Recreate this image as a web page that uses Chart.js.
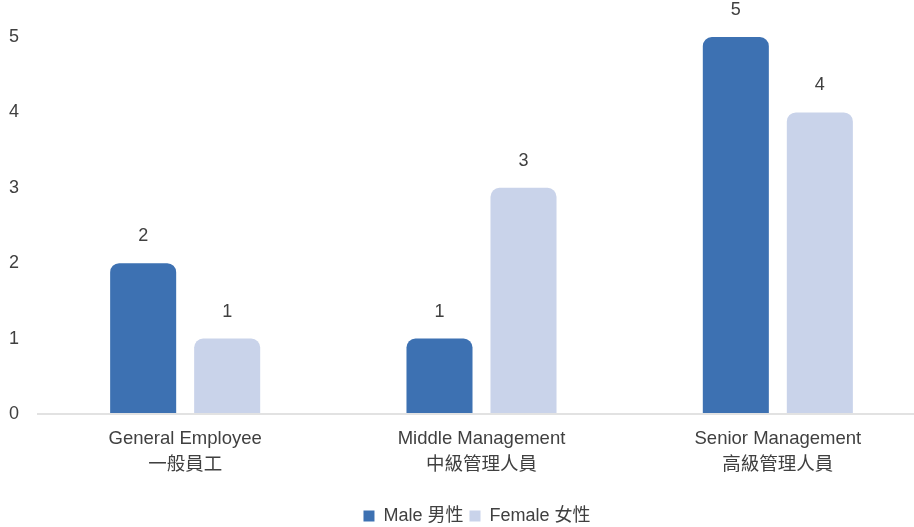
<!DOCTYPE html>
<html>
<head>
<meta charset="utf-8">
<script src="https://cdn.jsdelivr.net/npm/chart.js@4/dist/chart.umd.min.js"></script>
<style>
  html, body { margin: 0; padding: 0; background: #ffffff; overflow: hidden; }
  #wrap { width: 930px; height: 535px; position: relative; }
</style>
</head>
<body>
<div id="wrap"><canvas id="c" width="930" height="535"></canvas></div>
<script>
const categories = [
  ["General Employee", "一般員工"],
  ["Middle Management", "中級管理人員"],
  ["Senior Management", "高級管理人員"]
];
const seriesNames = ["Male 男性", "Female 女性"];
const maleValues = [2, 1, 5];
const femaleValues = [1, 3, 4];
const yMin = 0, yMax = 5, yStep = 1;

const FONT = "'Liberation Sans', 'Noto Sans CJK TC', sans-serif";
const TEXT = '#404040';

const dataLabels = {
  id: 'dataLabels',
  afterDatasetsDraw(chart) {
    const ctx = chart.ctx;
    ctx.save();
    ctx.font = "18px " + FONT;
    ctx.fillStyle = TEXT;
    ctx.textAlign = 'center';
    ctx.textBaseline = 'middle';
    chart.data.datasets.forEach((ds, i) => {
      chart.getDatasetMeta(i).data.forEach((el, j) => {
        ctx.fillText(String(ds.data[j]), el.x, el.y - 27);
      });
    });
    ctx.restore();
  }
};

const legendShift = {
  id: 'legendShift',
  afterLayout(chart) {
    const lg = chart.legend;
    if (lg) { lg.left += 14; lg.right += 14; if (lg.adjustHitBoxes) lg.adjustHitBoxes(); }
  }
};

new Chart(document.getElementById('c'), {
  type: 'bar',
  data: {
    labels: categories,
    datasets: [
      {
        label: seriesNames[0],
        data: maleValues,
        backgroundColor: '#3d71b2',
        borderRadius: { topLeft: 9, topRight: 9 },
        borderSkipped: 'bottom',
        categoryPercentage: 0.567,
        barPercentage: 0.786
      },
      {
        label: seriesNames[1],
        data: femaleValues,
        backgroundColor: '#c9d3ea',
        borderRadius: { topLeft: 9, topRight: 9 },
        borderSkipped: 'bottom',
        categoryPercentage: 0.567,
        barPercentage: 0.786
      }
    ]
  },
  options: {
    responsive: false,
    animation: false,
    devicePixelRatio: 1,
    layout: { padding: { top: 37, left: 0, right: 4, bottom: 0 } },
    plugins: {
      legend: {
        position: 'bottom',
        labels: {
          font: { family: FONT, size: 18 },
          color: TEXT,
          boxWidth: 11,
          boxHeight: 11,
          padding: 6
        }
      },
      tooltip: { enabled: false }
    },
    scales: {
      x: {
        grid: { display: false },
        border: { display: false },
        ticks: {
          font: { family: FONT, size: 18.5, lineHeight: 1.4 },
          color: TEXT,
          padding: 4,
          maxRotation: 0,
          autoSkip: false
        },
        afterFit(scale) { scale.height = 87; }
      },
      y: {
        min: yMin,
        max: yMax,
        grid: {
          drawTicks: false,
          lineWidth: 2,
          color: (c) => (c.tick && c.tick.value === 0 ? '#e2e2e2' : 'rgba(0,0,0,0)')
        },
        border: { display: false },
        ticks: {
          stepSize: yStep,
          font: { family: FONT, size: 18 },
          color: TEXT,
          padding: 18
        },
        afterFit(scale) { scale.width = 37; }
      }
    }
  },
  plugins: [dataLabels, legendShift]
});
</script>
</body>
</html>
